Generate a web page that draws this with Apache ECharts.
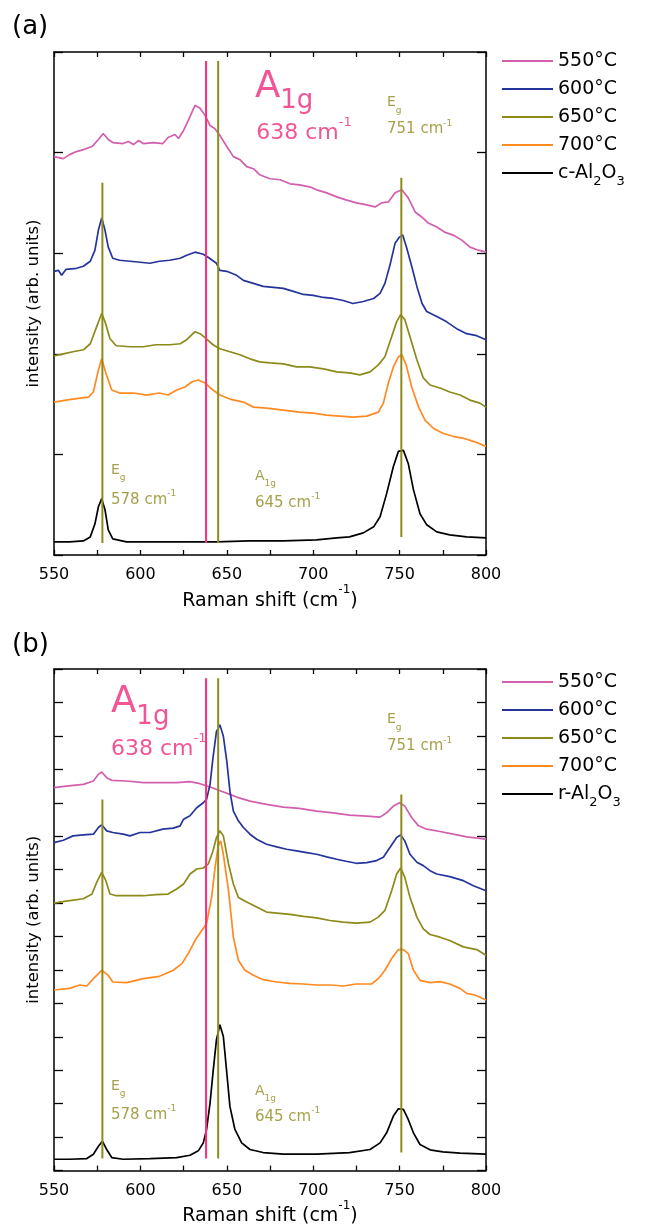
<!DOCTYPE html>
<html><head><meta charset="utf-8">
<script src="https://cdn.jsdelivr.net/npm/echarts@6/dist/echarts.min.js"></script>
<style>html,body{margin:0;padding:0;background:#fff}#c{width:646px;height:1227px}</style>
</head><body><div id="c"></div>
<script>
// ---------- DATA ----------
const tempNames = ['550°C', '600°C', '650°C', '700°C'];
const substrateA = 'c-Al2O3';
const substrateB = 'r-Al2O3';
const xTicks = [550, 600, 650, 700, 750, 800];

// Panel (a): c-plane sapphire
const a550 = [[550,3.96],[555.4,3.94],[559,3.98],[563,4.01],[567,4.03],[572,4.06],[575.7,4.13],[578.5,4.19],[581.4,4.13],[584,4.10],[590,4.09],[593,4.11],[596,4.08],[599,4.12],[601.7,4.09],[607.5,4.10],[613,4.09],[616,4.15],[620,4.18],[622,4.14],[625,4.22],[627.7,4.32],[631.6,4.47],[634.5,4.44],[637.4,4.37],[640.3,4.27],[643,4.24],[646,4.17],[650,4.06],[653.8,3.96],[657.6,3.93],[661.5,3.86],[665.4,3.84],[669,3.78],[675,3.74],[680.8,3.73],[686.6,3.69],[692,3.68],[698,3.66],[702,3.63],[707.8,3.60],[713.6,3.56],[719,3.53],[725,3.50],[731,3.48],[735.8,3.46],[739.6,3.50],[743.5,3.51],[747.4,3.60],[751.3,3.63],[755,3.55],[759,3.41],[762.8,3.36],[766.6,3.30],[771.5,3.26],[776,3.21],[781,3.18],[786,3.13],[790.7,3.06],[795.6,3.03],[800,3.01]];
const a600 = [[550,2.82],[552.5,2.83],[554.4,2.78],[557,2.84],[563,2.85],[567,2.87],[571,2.92],[573.7,3.03],[575.7,3.23],[577.6,3.35],[579.5,3.23],[581.4,3.06],[584,2.95],[588,2.93],[594,2.92],[599.8,2.91],[605.6,2.90],[611,2.92],[617,2.93],[623,2.95],[626.8,2.98],[631.6,3.01],[636.4,2.99],[640,2.95],[644,2.90],[646,2.83],[650,2.82],[655.7,2.78],[659.6,2.73],[665.4,2.70],[671,2.67],[677,2.66],[682.7,2.65],[688.5,2.62],[694.3,2.59],[700,2.58],[706,2.56],[711.6,2.55],[717.4,2.53],[723,2.50],[729,2.52],[735,2.55],[738.7,2.60],[741.5,2.70],[744.4,2.88],[747.4,3.10],[749.9,3.16],[751.8,3.18],[754,3.06],[757,2.87],[760,2.67],[763,2.50],[765.7,2.42],[771.5,2.37],[777,2.32],[783,2.25],[788.8,2.20],[794.6,2.18],[800,2.14]];
const a650 = [[550,1.98],[555.4,2.00],[561,2.02],[567,2.04],[571,2.10],[574.7,2.27],[577.6,2.40],[579.5,2.32],[582.4,2.15],[586,2.08],[594,2.07],[601.7,2.07],[609,2.09],[617,2.09],[623,2.10],[626.8,2.14],[631.6,2.22],[634.5,2.20],[637.4,2.16],[642,2.09],[646,2.05],[651.8,2.02],[657.6,1.99],[663.4,1.95],[669,1.92],[675,1.91],[682.7,1.90],[690.4,1.87],[698,1.87],[706,1.85],[713.6,1.82],[721,1.81],[727,1.79],[732.9,1.82],[737.7,1.89],[741.5,1.97],[745.4,2.17],[748.3,2.32],[750.6,2.39],[753,2.34],[756,2.17],[760,1.94],[763.7,1.76],[767.6,1.69],[773.4,1.66],[779,1.62],[785,1.59],[790.7,1.54],[796.5,1.51],[800,1.47]];
const a700 = [[550,1.52],[557,1.54],[565,1.56],[570,1.57],[572.8,1.62],[575.7,1.84],[577.6,1.95],[580,1.81],[583.4,1.64],[588,1.61],[596,1.61],[603.6,1.59],[611,1.61],[616,1.59],[621,1.64],[625.8,1.67],[629.7,1.72],[633.5,1.74],[637.4,1.71],[642,1.64],[646,1.59],[651.8,1.55],[659.6,1.52],[665.4,1.47],[673,1.46],[682.7,1.44],[692,1.42],[700,1.41],[707.8,1.39],[715.5,1.38],[723,1.37],[731,1.38],[737.7,1.42],[740.6,1.51],[743.5,1.71],[746.4,1.87],[749.3,1.97],[751.3,1.99],[753.8,1.89],[757,1.67],[761,1.47],[764.7,1.34],[769.5,1.26],[775,1.21],[781,1.18],[787,1.16],[792.7,1.13],[800,1.08]];
const aSub = [[550,0.13],[559,0.13],[567,0.14],[571,0.18],[573.7,0.31],[575.7,0.48],[577.6,0.56],[579.5,0.45],[581.4,0.25],[584,0.16],[592,0.13],[605.6,0.13],[625,0.13],[644,0.13],[663,0.14],[682.7,0.14],[702,0.15],[713.6,0.17],[721,0.18],[729,0.22],[735,0.28],[738.7,0.38],[742.5,0.61],[746.4,0.88],[749.3,1.03],[752.2,1.04],[755,0.91],[758,0.65],[761.8,0.41],[765.7,0.30],[771.5,0.23],[779,0.20],[788.8,0.18],[800,0.17]];

// Panel (b): r-plane sapphire
const b550 = [[550,11.45],[557,11.50],[567,11.55],[572.8,11.65],[575.7,11.85],[577.6,11.92],[580.5,11.75],[583.4,11.67],[592,11.65],[601.7,11.60],[611,11.60],[621,11.60],[628.7,11.63],[634.5,11.57],[640.3,11.47],[645,11.38],[651.8,11.25],[655.7,11.17],[663.4,11.05],[673,10.95],[682.7,10.87],[692,10.83],[702,10.75],[711.6,10.70],[721,10.63],[731,10.60],[738.7,10.57],[742.5,10.70],[746.4,10.90],[750,11.00],[753,10.90],[757,10.56],[761,10.31],[765.7,10.21],[773.4,10.14],[781,10.06],[788.8,9.98],[800,9.91]];
const b600 = [[550,9.81],[555.4,9.88],[561,10.01],[567,10.04],[572.8,10.06],[575.7,10.26],[577.6,10.34],[580.5,10.16],[584,10.11],[590,10.06],[594,10.01],[599.8,10.11],[605.6,10.11],[613,10.21],[619,10.24],[623,10.31],[625,10.51],[628.7,10.61],[632.6,10.85],[636.4,11.00],[638.3,11.10],[640.3,11.55],[642,12.34],[644,13.13],[646,13.33],[648,12.99],[650,12.24],[651.8,11.35],[653.8,10.75],[656.7,10.46],[659.6,10.26],[663.4,10.06],[667.3,9.91],[673,9.76],[678.9,9.68],[684.6,9.61],[690.4,9.56],[696.2,9.51],[702,9.46],[707.8,9.38],[713.6,9.31],[719,9.25],[725,9.19],[731,9.21],[736.7,9.27],[740.6,9.37],[744.4,9.66],[748.3,9.96],[750.6,10.04],[753,9.86],[756,9.46],[760,9.22],[763.7,9.12],[767.6,8.97],[771.5,8.87],[779,8.79],[786.9,8.67],[792.7,8.52],[800,8.37]];
const b650 = [[550,8.00],[557,8.06],[567,8.13],[572,8.27],[574.7,8.62],[577.6,8.92],[580,8.67],[582.4,8.27],[586,8.22],[594,8.22],[601.7,8.22],[609,8.25],[616,8.27],[621,8.42],[625,8.57],[628.7,8.87],[632.6,9.02],[636.4,9.05],[639.3,9.17],[642,9.56],[644,9.96],[646,10.16],[648,10.01],[651,9.17],[653.8,8.57],[656.7,8.17],[661.5,8.03],[667.3,7.88],[673,7.73],[678.9,7.70],[686.6,7.66],[694.3,7.60],[702,7.56],[709.7,7.48],[717.4,7.43],[725,7.40],[732.9,7.43],[737.7,7.58],[741.5,7.78],[745.4,8.37],[748.3,8.87],[750.6,9.05],[753,8.77],[756,8.17],[760,7.58],[763.7,7.23],[767.6,7.06],[773.4,6.98],[779,6.88],[786.9,6.69],[794.6,6.61],[800,6.44]];
const b700 = [[550,5.40],[559,5.45],[565,5.55],[569,5.52],[572.8,5.74],[577.6,5.99],[581.4,5.84],[584,5.64],[592,5.62],[601.7,5.74],[611,5.81],[619,5.99],[624,6.19],[627.7,6.49],[631.6,6.88],[635.5,7.18],[638.3,7.38],[641.2,8.17],[643,8.97],[645,9.71],[646.5,9.86],[648,9.46],[651,8.37],[653.8,6.98],[656.7,6.29],[660.5,5.99],[665.4,5.84],[671,5.71],[678.9,5.64],[686.6,5.60],[694.3,5.58],[702,5.55],[709.7,5.55],[717.4,5.52],[725,5.58],[733.8,5.58],[737.7,5.74],[741.5,5.99],[745.4,6.34],[749.3,6.61],[752.2,6.61],[755,6.49],[758,5.99],[761.8,5.69],[767.6,5.62],[773.4,5.65],[779,5.58],[785,5.45],[788.8,5.30],[793.6,5.25],[800,5.10]];
const bSub = [[550,0.34],[559,0.34],[569,0.36],[572.8,0.49],[575.7,0.73],[578,0.88],[580.5,0.63],[583.4,0.39],[590,0.34],[605.6,0.36],[621,0.39],[628.7,0.46],[633.5,0.59],[636.4,0.83],[638.3,1.23],[640.3,2.02],[642,2.92],[644,3.91],[646,4.36],[648,4.01],[650,2.92],[651.8,1.92],[654.7,1.23],[658.6,0.83],[663.4,0.63],[671,0.54],[682.7,0.49],[702,0.49],[721,0.54],[732.9,0.63],[738.7,0.83],[742.5,1.13],[746.4,1.63],[749.3,1.85],[752.2,1.83],[755,1.53],[758,1.13],[761.8,0.78],[767.6,0.62],[775,0.56],[785,0.52],[800,0.49]];

// Reference mode marker lines [x (cm^-1), yTop, yBottom]
const linesA = { film: [638, 4.91, 0.12], sub: [[578, 3.70, 0.12], [645, 4.91, 0.12], [751, 3.75, 0.18]] };
const linesB = { film: [638, 14.72, 0.36], sub: [[578, 11.10, 0.36], [645, 14.72, 0.36], [751, 11.25, 0.54]] };

// Annotations: [kind, main, sub/sup, x, y]
const annotA = [
  ['bigMode', 'A', '1g', 666.3, 4.65],
  ['bigWn', '638 cm', '-1', 667, 4.19],
  ['mode', 'E', 'g', 742.7, 4.50],
  ['wn', '751 cm', '-1', 742.7, 4.23],
  ['mode', 'E', 'g', 583, 0.845],
  ['wn', '578 cm', '-1', 583, 0.55],
  ['mode', 'A', '1g', 666.3, 0.785],
  ['wn', '645 cm', '-1', 666.3, 0.52]
];
const annotB = [
  ['bigMode', 'A', '1g', 583, 14.0],
  ['bigWn', '638 cm', '-1', 583, 12.60],
  ['mode', 'E', 'g', 742.7, 13.50],
  ['wn', '751 cm', '-1', 742.7, 12.69],
  ['mode', 'E', 'g', 583, 2.53],
  ['wn', '578 cm', '-1', 583, 1.67],
  ['mode', 'A', '1g', 666.3, 2.38],
  ['wn', '645 cm', '-1', 666.3, 1.61]
];

// ---------- STYLE ----------
const FONT = 'DejaVu Sans';
const curveColors = ['#d15fae', '#25349b', '#8c8a18', '#ff8a22', '#000000'];
const pinkLine = '#ff2a7c';
const oliveLine = '#8e8b19';
const pinkText = '#ee2b7c';
const oliveText = '#8e8a1e';

const grids = [
  { left: 54, top: 52, width: 432, height: 503 },
  { left: 54, top: 669, width: 432, height: 504 }
];

function xAxesFor(gi) {
  const common = {
    gridIndex: gi, type: 'value', min: 550, max: 800, interval: 25,
    axisLine: { show: true, onZero: false, lineStyle: { color: '#000', width: 1.5 } },
    axisTick: { show: true, inside: true, length: 5, lineStyle: { color: '#000', width: 1.3 } },
    splitLine: { show: false }
  };
  return [
    Object.assign({}, common, {
      position: 'bottom',
      axisLabel: { show: true, color: '#000', fontSize: 16, fontFamily: FONT, margin: 12,
        formatter: v => xTicks.includes(v) ? String(v) : '' },
      name: '{m|Raman shift (cm}{u|-1}{m|)}', nameLocation: 'middle', nameGap: 24,
      nameTextStyle: { rich: {
        m: { fontSize: 19, lineHeight: 34, fontFamily: FONT, color: '#000', verticalAlign: 'middle' },
        u: { fontSize: 12, lineHeight: 12, fontFamily: FONT, color: '#000', verticalAlign: 'top' }
      } }
    }),
    Object.assign({}, common, { position: 'top', axisLabel: { show: false } })
  ];
}
function yAxesFor(gi, max) {
  const common = {
    gridIndex: gi, type: 'value', min: 0, max: max, interval: 1,
    axisLine: { show: true, onZero: false, lineStyle: { color: '#000', width: 1.5 } },
    axisTick: { show: true, inside: true, length: 9, lineStyle: { color: '#000', width: 1.3 } },
    axisLabel: { show: false }, splitLine: { show: false }
  };
  return [
    Object.assign({}, common, { position: 'left', name: 'intensity (arb. units)', nameLocation: 'middle', nameGap: 12,
      nameTextStyle: { fontSize: 16.5, fontFamily: FONT, color: '#000' } }),
    Object.assign({}, common, { position: 'right' })
  ];
}

function curveSeries(gi, arrays, names) {
  return arrays.map((d, i) => ({
    type: 'line', name: names[i], xAxisIndex: gi * 2, yAxisIndex: gi * 2,
    data: d, showSymbol: false, symbol: 'none', color: curveColors[i],
    lineStyle: { color: curveColors[i], width: 1.7 }, z: 2, animation: false, silent: true
  }));
}
function markerSeries(gi, lines) {
  const mk = (l, c) => ({
    type: 'line', xAxisIndex: gi * 2, yAxisIndex: gi * 2,
    data: [[l[0], l[1]], [l[0], l[2]]], showSymbol: false, symbol: 'none',
    lineStyle: { color: c, width: 2 }, z: 4, animation: false, silent: true
  });
  return [mk(lines.film, pinkLine)].concat(lines.sub.map(l => mk(l, oliveLine)));
}
const richStyles = {
  bA: { fontSize: 37, lineHeight: 37, fontFamily: FONT, color: pinkText, verticalAlign: 'middle' },
  bAs: { fontSize: 26, lineHeight: 26, fontFamily: FONT, color: pinkText, padding: [20, 0, 0, 0], verticalAlign: 'top' },
  bW: { fontSize: 22, lineHeight: 34, fontFamily: FONT, color: pinkText, verticalAlign: 'middle' },
  bWs: { fontSize: 13, lineHeight: 13, fontFamily: FONT, color: pinkText, verticalAlign: 'top' },
  sA: { fontSize: 14, lineHeight: 14, fontFamily: FONT, color: oliveText, verticalAlign: 'middle' },
  sAs: { fontSize: 9, lineHeight: 9, fontFamily: FONT, color: oliveText, padding: [10.5, 0, 0, 0], verticalAlign: 'top' },
  sW: { fontSize: 15, lineHeight: 21, fontFamily: FONT, color: oliveText, verticalAlign: 'middle' },
  sWs: { fontSize: 9, lineHeight: 9, fontFamily: FONT, color: oliveText, verticalAlign: 'top' }
};
const kindMap = { bigMode: ['bA', 'bAs'], bigWn: ['bW', 'bWs'], mode: ['sA', 'sAs'], wn: ['sW', 'sWs'] };
function annotSeries(gi, ann) {
  return {
    type: 'scatter', xAxisIndex: gi * 2, yAxisIndex: gi * 2, symbolSize: 0, silent: true, animation: false, z: 5,
    data: ann.map(a => {
      const k = kindMap[a[0]];
      return { value: [a[3], a[4]], label: { show: true, position: 'right', distance: 0,
        formatter: '{' + k[0] + '|' + a[1] + '}{' + k[1] + '|' + a[2] + '}', rich: richStyles } };
    })
  };
}
function legendFor(top, names) {
  return {
    orient: 'vertical', left: 502, top: top, padding: 0, selectedMode: false,
    icon: 'rect', itemWidth: 51, itemHeight: 2, itemGap: 8, itemTextGap: 9,
    data: names,
    textStyle: { fontSize: 19, lineHeight: 20, fontFamily: FONT, color: '#000',
      rich: { s: { fontSize: 13, lineHeight: 13, fontFamily: FONT, color: '#000', padding: [12.5, 0, 0, 0], verticalAlign: 'top' } } },
    formatter: n => n.indexOf('Al2O3') > 0 ? n.replace('Al2O3', 'Al{s|2}O{s|3}') : n
  };
}

const chart = echarts.init(document.getElementById('c'), null, { renderer: 'canvas' });
chart.setOption({
  animation: false,
  backgroundColor: '#fff',
  grid: grids,
  xAxis: xAxesFor(0).concat(xAxesFor(1)),
  yAxis: yAxesFor(0, 5).concat(yAxesFor(1, 15)),
  legend: [legendFor(51, tempNames.concat([substrateA])), legendFor(672, tempNames.concat([substrateB]))],
  graphic: [
    { type: 'text', x: 12, y: 27, style: { text: '(a)', fontSize: 26, fontFamily: FONT, fill: '#000', verticalAlign: 'middle' } },
    { type: 'text', x: 12, y: 645, style: { text: '(b)', fontSize: 26, fontFamily: FONT, fill: '#000', verticalAlign: 'middle' } }
  ],
  series: []
    .concat(curveSeries(0, [a550, a600, a650, a700, aSub], tempNames.concat([substrateA])))
    .concat(curveSeries(1, [b550, b600, b650, b700, bSub], tempNames.concat([substrateB])))
    .concat(markerSeries(0, linesA)).concat(markerSeries(1, linesB))
    .concat([annotSeries(0, annotA), annotSeries(1, annotB)])
});
</script></body></html>
